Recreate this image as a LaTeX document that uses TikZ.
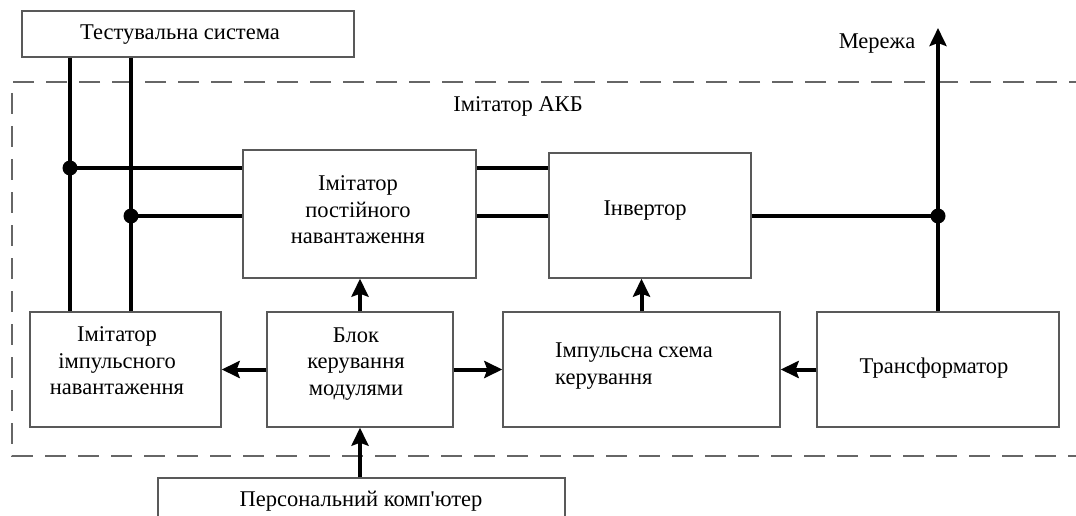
\documentclass[tikz,border=0pt]{standalone}
\usepackage{fontspec}
\setmainfont{Liberation Serif}
\newfontfamily\plainserif{Liberation Serif}[Ligatures=TeXOff]
\usetikzlibrary{arrows.meta}
\begin{document}
\begin{tikzpicture}[x=1pt,y=-1pt,
  box/.style={draw=black!65,line width=1.4pt,fill=white,rectangle,inner sep=0pt},
  lbl/.style={align=center,inner sep=0pt,font=\fontsize{22.5}{26.5}\selectfont},
  bus/.style={line width=4pt,black},
  arr/.style={line width=4pt,black,-{Stealth[length=18pt,width=17pt,inset=3pt]}},
  dot/.style={circle,fill=black,inner sep=0pt,minimum size=15pt},
  sdot/.style={circle,fill=black,inner sep=0pt,minimum size=6pt},
  frame/.style={draw=black!60,line width=1.6pt,dash pattern=on 21pt off 12pt}]
\useasboundingbox (0,0) rectangle (1076,516);
\clip (0,0) rectangle (1076,516);
% dashed frame
\draw[frame] (1090,82) -- (12,82) -- (12,456) -- (1090,456);
% boxes
\node[box,minimum width=332pt,minimum height=46pt] (ts) at (188,34) {};
\node[box,minimum width=233pt,minimum height=128pt] (post) at (359.5,214) {};
\node[box,minimum width=202pt,minimum height=125pt] (inv) at (650,215.5) {};
\node[box,minimum width=191pt,minimum height=115pt] (imp) at (125.5,369.5) {};
\node[box,minimum width=186pt,minimum height=115pt] (blok) at (360,369.5) {};
\node[box,minimum width=277pt,minimum height=115pt] (isk) at (641.5,369.5) {};
\node[box,minimum width=242pt,minimum height=115pt] (tr) at (938,369.5) {};
\node[box,minimum width=407pt,minimum height=62pt] (pc) at (361.5,509) {};
% texts
\node[lbl] (tst) at (180,35) {Тестувальна система};
\node[lbl] (postt) at (358,210) {Імітатор\\постійного\\навантаження};
\node[lbl] (invt) at (645,211) {Інвертор};
\node[lbl] (impt) at (117,361) {Імітатор\\імпульсного\\навантаження};
\node[lbl] (blokt) at (356,364) {Блок\\керування\\модулями};
\node[lbl,align=left,anchor=west] (iskt) at (555,366) {Імпульсна схема\\керування};
\node[lbl] (trt) at (934,368) {Трансформатор};
\node[lbl] (pct) at (361,501) {\plainserif Персональний комп'ютер};
\node[lbl] (mer) at (877,44) {Мережа};
\node[lbl] (akb) at (518,106) {Імітатор АКБ};
% junction coordinates
\coordinate (j1) at (70,168);
\coordinate (j2) at (131,216);
\coordinate (j3) at (131,168);
\coordinate (j4) at (938,216);
\coordinate (top) at (938,28);
% bus lines
\draw[bus] (j1 |- ts.south) -- (j1 |- imp.north);
\draw[bus] (j2 |- ts.south) -- (j2 |- imp.north);
\draw[bus] (j1) -- (j1 -| post.west);
\draw[bus] (j2) -- (j2 -| post.west);
\draw[bus] (j1 -| post.east) -- (j1 -| inv.west);
\draw[bus] (j2 -| post.east) -- (j2 -| inv.west);
\draw[bus] (j4 -| inv.east) -- (j4);
\draw[arr] (tr.north) -- (top);
\node[dot] (d1) at (j1) {};
\node[dot] (d2) at (j2) {};
\node[sdot] (d3) at (j3) {};
\node[dot] (d4) at (j4) {};
% arrows
\draw[arr] (blok.west) -- (imp.east);
\draw[arr] (blok.east) -- (isk.west);
\draw[arr] (tr.west) -- (isk.east);
\draw[arr] (blok.north) -- (blok.north |- post.south);
\draw[arr] (isk.north) -- (isk.north |- inv.south);
\draw[arr] (pc.north -| blok.south) -- (blok.south);
\end{tikzpicture}
\end{document}
